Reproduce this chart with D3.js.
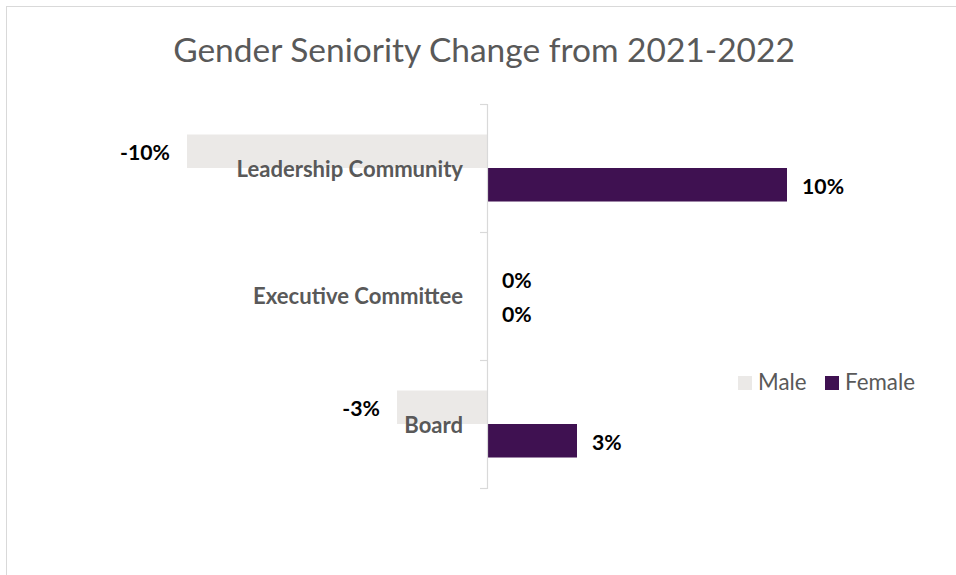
<!DOCTYPE html>
<html>
<head>
<meta charset="utf-8">
<script src="https://cdn.jsdelivr.net/npm/d3@7"></script>
<style>
  html, body { margin: 0; padding: 0; background: #ffffff; }
  svg { display: block; }
</style>
</head>
<body>
<svg id="chart" width="956" height="575"></svg>
<script>
// Seniority categories, top to bottom
const categories = ["Leadership Community", "Executive Committee", "Board"];
// Year-on-year change per series (fractions)
const maleChange = [-0.10, 0.00, -0.03];
const femaleChange = [0.10, 0.00, 0.03];
const seriesNames = ["Male", "Female"];
const seriesColors = ["#ebe9e7", "#3f1151"];
const titleText = "Gender Seniority Change from 2021-2022";

const W = 956, H = 575;
const FONT = "Lato, Carlito, 'Open Sans', sans-serif";
const svg = d3.select("#chart");

// Outer chart frame (only the left and top edges fall inside the view)
svg.append("rect")
  .attr("x", 6.5).attr("y", 6.5)
  .attr("width", W + 20).attr("height", H + 20)
  .attr("fill", "#ffffff")
  .attr("stroke", "#d9d9d9").attr("stroke-width", 1);

// Scales
const x = d3.scaleLinear().domain([-0.15, 0.15]).range([37, 937]);
const y = d3.scaleBand().domain(categories).range([104, 488]).padding(0);
const inner = d3.scaleBand().domain(seriesNames)
  .range([0, y.bandwidth()]).paddingInner(0).paddingOuter(0.91);

// Fit a text node to a target width by scaling its font size
function fitWidth(sel, target) {
  const node = sel.node();
  const fs = parseFloat(sel.attr("font-size"));
  const w = node.getComputedTextLength();
  if (w > 0) sel.attr("font-size", fs * target / w);
  return sel;
}
function fittedSize(str, target, weight) {
  const t = svg.append("text").attr("font-family", FONT).attr("font-weight", weight)
    .attr("font-size", 20).text(str);
  fitWidth(t, target);
  const fs = parseFloat(t.attr("font-size"));
  t.remove();
  return fs;
}

// Title
const title = svg.append("text")
  .attr("x", 484).attr("y", 62)
  .attr("text-anchor", "middle")
  .attr("font-family", FONT).attr("font-size", 37)
  .attr("fill", "#595959")
  .text(titleText);
fitWidth(title, 622);

// Rows of data
const rows = categories.map((c, i) => ({ cat: c, values: [maleChange[i], femaleChange[i]] }));

// Bars
const g = svg.append("g");
rows.forEach(r => {
  r.values.forEach((v, j) => {
    const s = seriesNames[j];
    g.append("rect")
      .attr("x", x(Math.min(0, v)))
      .attr("y", y(r.cat) + inner(s))
      .attr("width", Math.abs(x(v) - x(0)))
      .attr("height", inner.bandwidth())
      .attr("fill", seriesColors[j]);
  });
});

// Vertical category axis with ticks at band boundaries
const yEdges = d3.scaleLinear().domain([0, categories.length]).range(y.range());
const axis = d3.axisLeft(yEdges)
  .tickValues(d3.range(0, categories.length + 1))
  .tickFormat("")
  .tickSizeInner(7).tickSizeOuter(7);
const axG = svg.append("g")
  .attr("transform", `translate(${x(0)},0)`)
  .call(axis);
axG.selectAll("path, line").attr("stroke", "#d9d9d9").attr("stroke-width", 1.2);

// Category labels
const catSize = fittedSize("Executive Committee", 210, "bold");
const catOffsets = [9, 8, 9];
svg.append("g").selectAll("text")
  .data(categories)
  .join("text")
  .attr("x", 463)
  .attr("y", (d, i) => y(d) + y.bandwidth() / 2 + catOffsets[i])
  .attr("text-anchor", "end")
  .attr("font-family", FONT).attr("font-weight", "bold")
  .attr("font-size", catSize)
  .attr("fill", "#595959")
  .text(d => d);

// Value labels (plain hyphen for negatives)
const pct = v => d3.format(".0%")(v).replace("\u2212", "-");
const valSize = fittedSize("-10%", 50, "bold");
rows.forEach(r => {
  r.values.forEach((v, j) => {
    const s = seriesNames[j];
    const cy = y(r.cat) + inner(s) + inner.bandwidth() / 2;
    const neg = v < 0;
    svg.append("text")
      .attr("x", neg ? x(v) - 17 : x(v) + 15)
      .attr("y", cy + 9)
      .attr("text-anchor", neg ? "end" : "start")
      .attr("font-family", FONT).attr("font-weight", "bold")
      .attr("font-size", valSize)
      .attr("fill", "#000000")
      .text(pct(v));
  });
});

// Legend
const legSize = fittedSize("Female", 70, "normal");
const legend = svg.append("g").attr("transform", "translate(738,376)");
const legX = [0, 87];
seriesNames.forEach((s, j) => {
  const lg = legend.append("g").attr("transform", `translate(${legX[j]},0)`);
  lg.append("rect").attr("width", 14).attr("height", 14).attr("fill", seriesColors[j]);
  lg.append("text")
    .attr("x", 20).attr("y", 14)
    .attr("font-family", FONT).attr("font-size", legSize)
    .attr("fill", "#595959")
    .text(s);
});
</script>
</body>
</html>
